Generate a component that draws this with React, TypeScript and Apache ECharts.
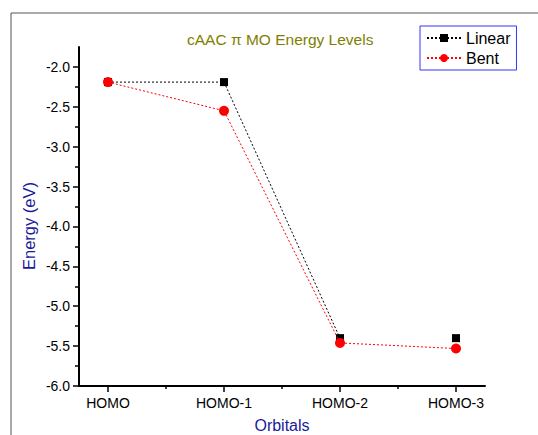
import React, { useEffect, useRef } from "react";
import * as echarts from "echarts";

const categories = ["HOMO", "HOMO-1", "HOMO-2", "HOMO-3"];
const linearValues = [-2.19, -2.19, -5.4, -5.4];
const bentValues = [-2.19, -2.55, -5.46, -5.53];
const yTickLabels = [-6.0, -5.5, -5.0, -4.5, -4.0, -3.5, -3.0, -2.5, -2.0];
const yMinorTicks = [-5.75, -5.25, -4.75, -4.25, -3.75, -3.25, -2.75, -2.25];
const xMinorTicks = [0.5, 1.5, 2.5];

export default function App() {
  const ref = useRef<HTMLDivElement>(null);
  useEffect(() => {
    if (!ref.current) return;
    const chart = echarts.init(ref.current, null, { renderer: "svg" });
    const font = "Arial, 'Liberation Sans', sans-serif";
    const idx = categories.map((_, i) => i);
    // Linear: line joins first three points, last point stands alone
    const linearData: any[] = [];
    linearValues.forEach((v, i) => {
      if (i === 3) linearData.push(null);
      linearData.push([idx[i], v]);
    });
    const bentData = bentValues.map((v, i) => [idx[i], v]);
    const grid = { left: 79, right: 53, top: 47, bottom: 49, outerBoundsMode: "none", containLabel: false };
    chart.setOption({
      animation: false,
      backgroundColor: "#ffffff",
      title: {
        text: "cAAC \u03c0 MO Energy Levels",
        left: 182,
        top: 26,
        textStyle: { color: "#808000", fontSize: 15.5, fontWeight: "normal", fontFamily: font },
      },
      legend: {
        orient: "vertical",
        left: 420,
        top: 26,
        padding: [3, 6, 3, 6],
        itemGap: 2,
        itemWidth: 34,
        itemHeight: 10,
        borderColor: "#3333ff",
        borderWidth: 1,
        textStyle: { color: "#000", fontSize: 16, fontFamily: font, lineHeight: 18 },
        data: ["Linear", "Bent"],
      },
      grid,
      graphic: [
        { type: "line", shape: { x1: 11, y1: 13, x2: 538, y2: 13 }, style: { stroke: "#555", lineWidth: 1 } },
        { type: "line", shape: { x1: 11, y1: 13, x2: 11, y2: 435 }, style: { stroke: "#555", lineWidth: 1 } },
        {
          type: "text",
          x: 29,
          y: 226,
          rotation: Math.PI / 2,
          style: {
            text: "Energy (eV)",
            fill: "#1a1a9a",
            fontSize: 16.5,
            fontFamily: font,
            align: "center",
            verticalAlign: "middle",
          },
        },
      ],
      xAxis: [
        {
          type: "value",
          min: -0.25,
          max: 3.25,
          name: "Orbitals",
          nameLocation: "middle",
          nameGap: 31,
          nameTextStyle: { color: "#1a1a9a", fontSize: 16, fontFamily: font, lineHeight: 16 },
          splitLine: { show: false },
          axisLine: { show: true, onZero: false, lineStyle: { color: "#000", width: 2 } },
          axisTick: { show: true, customValues: idx, length: 6, lineStyle: { color: "#000", width: 1.5 } },
          axisLabel: {
            customValues: idx,
            margin: 10,
            color: "#000",
            fontSize: 14,
            fontFamily: font,
            formatter: (v: number) => categories[Math.round(v)] ?? "",
          },
        },
        {
          type: "value",
          min: -0.25,
          max: 3.25,
          position: "bottom",
          splitLine: { show: false },
          axisLine: { show: false, onZero: false },
          axisTick: { show: true, customValues: xMinorTicks, length: 3, lineStyle: { color: "#000", width: 1.5 } },
          axisLabel: { show: false },
        },
      ],
      yAxis: [
        {
          type: "value",
          min: -6,
          max: -1.75,
          splitLine: { show: false },
          axisLine: { show: true, onZero: false, lineStyle: { color: "#000", width: 2 } },
          axisTick: { show: true, customValues: yTickLabels, length: 6, lineStyle: { color: "#000", width: 1.5 } },
          axisLabel: {
            customValues: yTickLabels,
            margin: 9,
            color: "#000",
            fontSize: 14,
            fontFamily: font,
            formatter: (v: number) => v.toFixed(1),
          },
        },
        {
          type: "value",
          min: -6,
          max: -1.75,
          position: "left",
          splitLine: { show: false },
          axisLine: { show: false, onZero: false },
          axisTick: { show: true, customValues: yMinorTicks, length: 4, lineStyle: { color: "#000", width: 1.5 } },
          axisLabel: { show: false },
        },
      ],
      series: [
        {
          name: "Linear",
          type: "line",
          data: linearData,
          connectNulls: false,
          symbol: "rect",
          symbolSize: 8,
          showAllSymbol: true,
          itemStyle: { color: "#000" },
          lineStyle: { color: "#000", width: 1, type: [2, 2] },
          z: 2,
        },
        {
          name: "Bent",
          type: "line",
          data: bentData,
          symbol: "circle",
          symbolSize: 10,
          itemStyle: { color: "#ff0000" },
          lineStyle: { color: "#ff0000", width: 1, type: [2, 2] },
          z: 3,
        },
      ],
    });
    return () => chart.dispose();
  }, []);
  return <div ref={ref} style={{ position: "fixed", left: 0, top: 0, width: 538, height: 435 }} />;
}
